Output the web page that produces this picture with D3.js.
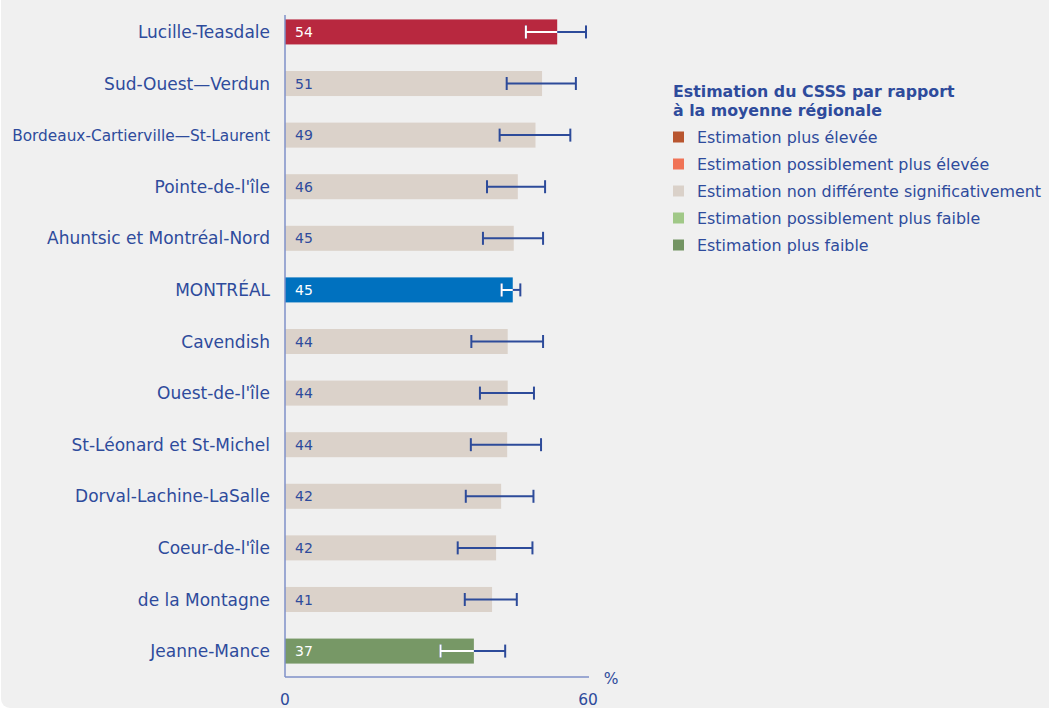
<!DOCTYPE html>
<html><head><meta charset="utf-8">
<script src="https://cdn.jsdelivr.net/npm/d3@7"></script>
<style>
html,body{margin:0;padding:0;background:#ffffff;}
svg{display:block;font-family:"DejaVu Sans",Verdana,sans-serif;}
</style></head>
<body>
<svg id="chart" width="1049" height="708"></svg>
<script>
const categories = ["Lucille-Teasdale","Sud-Ouest\u2014Verdun","Bordeaux-Cartierville\u2014St-Laurent","Pointe-de-l'île","Ahuntsic et Montréal-Nord","MONTRÉAL","Cavendish","Ouest-de-l'île","St-Léonard et St-Michel","Dorval-Lachine-LaSalle","Coeur-de-l'île","de la Montagne","Jeanne-Mance"];
const values = [53.9,50.9,49.6,46.1,45.3,45.1,44.1,44.1,44.0,42.8,41.8,41.0,37.4];
const valueLabels = ["54","51","49","46","45","45","44","44","44","42","42","41","37"];
const ciLow = [47.7,43.9,42.5,40.0,39.2,42.9,36.9,38.6,36.8,35.8,34.2,35.6,30.8];
const ciHigh = [59.6,57.6,56.5,51.5,51.1,46.6,51.1,49.3,50.7,49.2,49.0,45.9,43.6];
const status = ["high","none","none","none","none","region","none","none","none","none","none","none","low"];
const legendTitle = ["Estimation du CSSS par rapport","à la moyenne régionale"];
const legendLabels = ["Estimation plus élevée","Estimation possiblement plus élevée","Estimation non différente significativement","Estimation possiblement plus faible","Estimation plus faible"];
const legendColors = ["#b8552f","#f07356","#dad1c9","#a0c887","#739463"];
const xTicks = [0,60];

const barColor = {high:"#b8283f", none:"#dbd2ca", region:"#0071bf", low:"#779866"};
const textBlue = "#2e4b9c";

const svg = d3.select("#chart");
svg.append("rect").attr("x",1).attr("y",-10).attr("width",1060).attr("height",718).attr("rx",9).attr("fill","#f0f0f0");

const x = d3.scaleLinear().domain([0,60]).range([285,588]);
const y = d3.scaleBand().domain(categories).range([6,677]).paddingInner(0.515).paddingOuter(0.26);

const defs = svg.append("defs");
const g = svg.append("g");

// bars
g.selectAll("rect.bar").data(categories).join("rect")
  .attr("class","bar")
  .attr("x",x(0)).attr("y",d=>y(d))
  .attr("width",(d,i)=>x(values[i])-x(0))
  .attr("height",y.bandwidth())
  .attr("fill",(d,i)=>barColor[status[i]]);

// clip paths for colored bars
categories.forEach((d,i)=>{
  defs.append("clipPath").attr("id","clip"+i).append("rect")
    .attr("x",x(0)).attr("y",y(d)-10)
    .attr("width",x(values[i])-x(0)).attr("height",y.bandwidth()+20);
});

function drawErr(sel,i,color){
  const cy = y(categories[i])+y.bandwidth()/2;
  const a = x(ciLow[i]), b = x(ciHigh[i]);
  sel.append("line").attr("x1",a).attr("x2",b).attr("y1",cy).attr("y2",cy).attr("stroke",color).attr("stroke-width",2);
  sel.append("line").attr("x1",a).attr("x2",a).attr("y1",cy-6.5).attr("y2",cy+6.5).attr("stroke",color).attr("stroke-width",2);
  sel.append("line").attr("x1",b).attr("x2",b).attr("y1",cy-6.5).attr("y2",cy+6.5).attr("stroke",color).attr("stroke-width",2);
}
categories.forEach((d,i)=>{
  const eg = g.append("g");
  drawErr(eg,i,"#2d4b9a");
  if(status[i]!=="none"){
    const wg = g.append("g").attr("clip-path","url(#clip"+i+")");
    drawErr(wg,i,"#ffffff");
  }
});

// value labels
g.selectAll("text.val").data(categories).join("text")
  .attr("class","val")
  .attr("x",x(0)+10).attr("y",d=>y(d)+y.bandwidth()/2)
  .attr("dy","0.36em")
  .attr("font-size",14)
  .attr("fill",(d,i)=>status[i]==="none"?textBlue:"#ffffff")
  .text((d,i)=>valueLabels[i]);

// category labels
const maxLabelW = 258;
g.selectAll("text.cat").data(categories).join("text")
  .attr("class","cat")
  .attr("x",270).attr("y",d=>y(d)+y.bandwidth()/2)
  .attr("dy","0.36em")
  .attr("text-anchor","end")
  .attr("font-size",17)
  .attr("fill",textBlue)
  .text(d=>d)
  .each(function(){
    const w = this.getComputedTextLength();
    if(w>maxLabelW){
      d3.select(this).attr("font-size",17*maxLabelW/w);
    }
  });

// axes
const axisColor = "#7f90c8";
g.append("line").attr("x1",x(0)).attr("x2",x(0)).attr("y1",15).attr("y2",677).attr("stroke",axisColor).attr("stroke-width",1.5);
g.append("line").attr("x1",x(0)).attr("x2",x(60)+1).attr("y1",677).attr("y2",677).attr("stroke",axisColor).attr("stroke-width",1.5);
g.selectAll("text.tick").data(xTicks).join("text")
  .attr("class","tick")
  .attr("x",d=>x(d)).attr("y",705)
  .attr("text-anchor","middle")
  .attr("font-size",15.5)
  .attr("fill",textBlue)
  .text(d=>d);
g.append("text").attr("x",611).attr("y",684).attr("text-anchor","middle").attr("font-size",15.5).attr("fill",textBlue).text("%");

// legend
const lg = svg.append("g");
lg.selectAll("text.lt").data(legendTitle).join("text")
  .attr("x",673).attr("y",(d,i)=>97+i*19)
  .attr("font-size",15.8).attr("font-weight","bold").attr("fill",textBlue)
  .text(d=>d);
legendLabels.forEach((lab,i)=>{
  const cy = 137+i*27;
  lg.append("rect").attr("x",673).attr("y",cy-5.5).attr("width",11).attr("height",11).attr("fill",legendColors[i]);
  lg.append("text").attr("x",697).attr("y",cy).attr("dy","0.36em").attr("font-size",15.9).attr("fill",textBlue).text(lab);
});
</script>
</body></html>
